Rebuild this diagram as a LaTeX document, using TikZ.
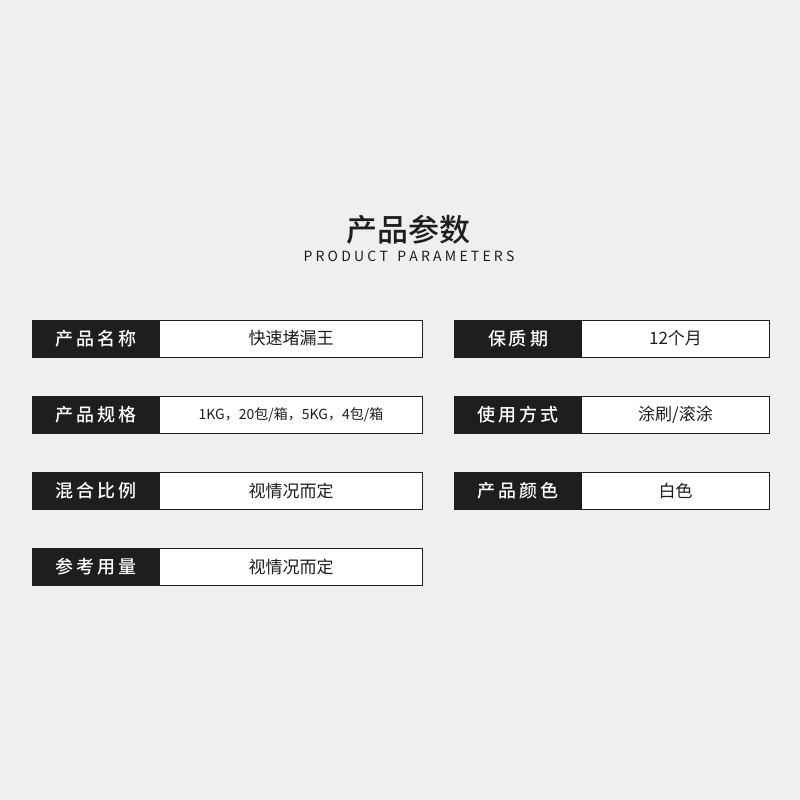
\documentclass[tikz,border=0pt]{standalone}
\usepackage{fontspec}
\setmainfont{Noto Sans CJK SC}
\newfontfamily\cjkb{Noto Sans CJK SC Medium}
\definecolor{bg}{HTML}{EFEFEF}
\definecolor{dk}{HTML}{1E1E1E}
\tikzset{x=1pt,y=-1pt,
 lab/.style={fill=dk,draw=dk,text=white,font=\fontsize{18}{18}\selectfont\cjkb,inner sep=0,anchor=center},
 frame/.style={draw=dk,line width=1pt,fill=white},
 val/.style={font=\fontsize{17}{17}\selectfont,text=dk,anchor=center}}
\newcommand\prow[7]{% x1 xmid x2 ytop label value name
 \draw[frame] (#1,#4) rectangle (#3,#4+37);
 \fill[dk] (#1,#4) rectangle (#2,#4+37);
 \node[lab] (l#7) at ({(#1+#2)/2},#4+18.5) {#5};
 \node[val] (v#7) at ({(#2+#3)/2},#4+18.5) {#6};}
\newcommand\ls{\hspace{3.2pt}}
\begin{document}
\begin{tikzpicture}
\fill[bg] (0,0) rectangle (800,800);
\useasboundingbox (0,0) rectangle (800,800);
\node[font=\fontsize{31}{31}\selectfont\cjkb,text=dk] (t) at (408,230) {产品参数};
\node[font=\fontsize{14}{14}\selectfont,text=dk] (st) at (409,256) {P\ls R\ls O\ls D\ls U\ls C\ls T\ \ \ P\ls A\ls R\ls A\ls M\ls E\ls T\ls E\ls R\ls S};
\prow{32}{160}{422}{320}{产\,品\,名\,称}{快速堵漏王}{a}
\prow{32}{160}{422}{396}{产\,品\,规\,格}{\fontsize{14}{14}\selectfont 1KG，20包/箱，5KG，4包/箱}{b}
\prow{32}{160}{422}{472}{混\,合\,比\,例}{视情况而定}{c}
\prow{32}{160}{422}{548}{参\,考\,用\,量}{视情况而定}{d}
\prow{454}{582}{769}{320}{保\,质\,期}{12个月}{e}
\prow{454}{582}{769}{396}{使\,用\,方\,式}{涂刷/滚涂}{f}
\prow{454}{582}{769}{472}{产\,品\,颜\,色}{白色}{g}
\end{tikzpicture}
\end{document}
